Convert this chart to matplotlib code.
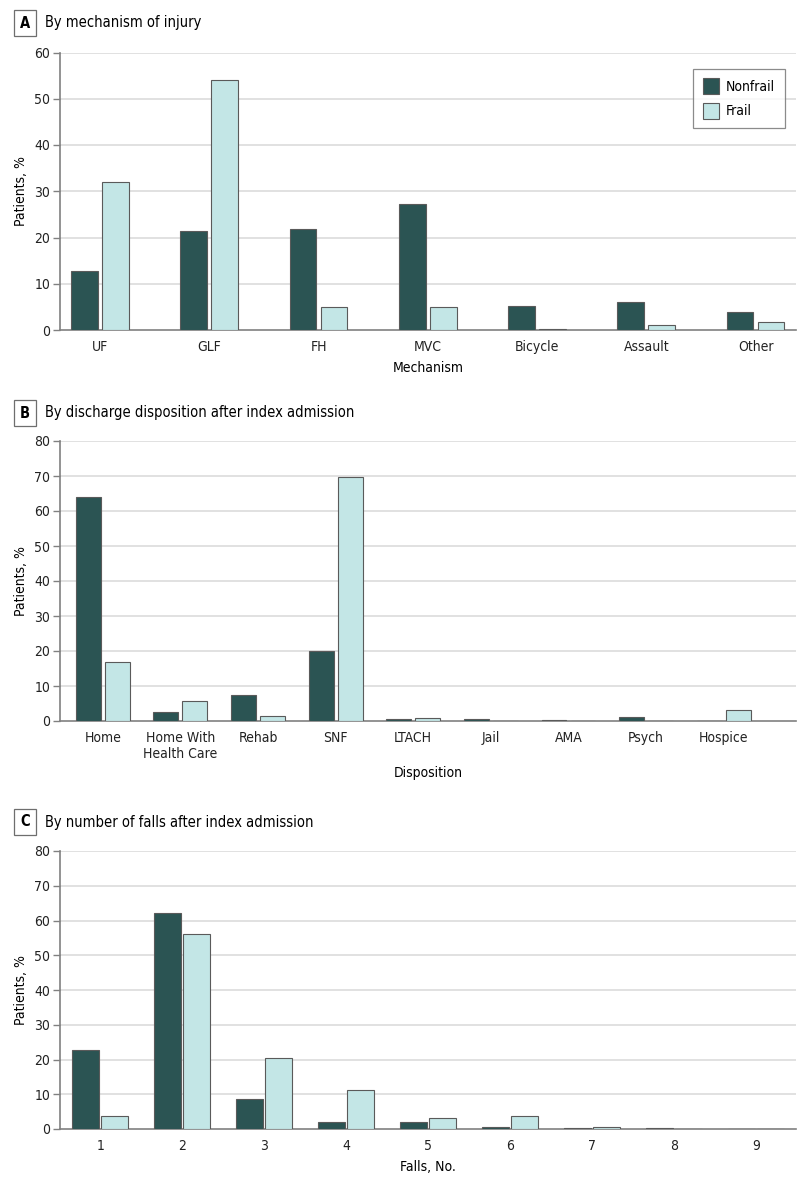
import matplotlib
matplotlib.use("Agg")
import matplotlib.pyplot as plt
from matplotlib.patches import Patch

# Panel A - mechanism of injury
mechanisms = ["UF", "GLF", "FH", "MVC", "Bicycle", "Assault", "Other"]
mechNonfrail = [12.7, 21.5, 21.8, 27.2, 5.2, 6.0, 4.0]
mechFrail = [32.0, 54.0, 5.0, 5.0, 0.3, 1.0, 1.7]

# Panel B - discharge disposition
dispositions = ["Home", "Home With\nHealth Care", "Rehab", "SNF", "LTACH",
                "Jail", "AMA", "Psych", "Hospice"]
dispNonfrail = [64.0, 2.6, 7.4, 20.0, 0.6, 0.6, 0.3, 1.1, 0.0]
dispFrail = [16.9, 5.7, 1.4, 69.8, 0.8, 0.0, 0.0, 0.0, 3.1]

# Panel C - number of falls
falls = ["1", "2", "3", "4", "5", "6", "7", "8", "9"]
fallsNonfrail = [22.7, 62.2, 8.6, 2.0, 2.0, 0.6, 0.3, 0.3, 0.0]
fallsFrail = [3.7, 56.2, 20.3, 11.2, 3.1, 3.7, 0.5, 0.0, 0.0]

NONFRAIL = "#2b5453"
FRAIL = "#c3e6e6"
EDGE = "#5a5a5a"
AXISCOL = "#808080"
GRIDCOL = "#dcdcdc"
FS = 10

# condensed face is closer to the narrow journal font
plt.rcParams['font.family'] = ["DejaVu Sans"]
plt.rcParams['font.stretch'] = "condensed"
plt.rcParams['font.size'] = FS

W, H = 807., 1185.


def px_axes(fig, top, bottom, left=60, right=796):
    """ Create an axes from pixel coordinates (measured from top-left) """
    return fig.add_axes([left / W, (H - bottom) / H, (right - left) / W, (bottom - top) / H])
#### End of function px_axes


def panel_title(fig, letter, text, ypix):
    """ Draw the boxed panel letter and the panel title """
    fig.text(25 / W, 1 - ypix / H, letter, ha="center", va="center", fontsize=10.5,
             fontweight="bold",
             bbox=dict(boxstyle="square,pad=0.4", fc="white", ec="#6e6e6e", lw=0.9))
    fig.text(45 / W, 1 - ypix / H, text, ha="left", va="center", fontsize=10.5)
#### End of function panel_title


def plot_pair(ax, labels, nonfrail, frail, ymax, xlim, width, offset, xlabel, labelpad=5):
    """ Grouped bars of nonfrail / frail percentages """
    x = range(len(labels))
    ax.bar([i - offset for i in x], nonfrail, width=width, color=NONFRAIL,
           edgecolor=EDGE, linewidth=0.8, label="Nonfrail", zorder=3)
    ax.bar([i + offset for i in x], frail, width=width, color=FRAIL,
           edgecolor=EDGE, linewidth=0.8, label="Frail", zorder=3)
    ax.set_xticks(list(x))
    ax.set_xticklabels(labels)
    ax.set_xlim(*xlim)
    ax.set_ylim(0, ymax)
    ax.set_yticks(range(0, ymax + 1, 10))
    for y in range(10, ymax + 1, 10):
        ax.axhline(y, color=GRIDCOL, lw=1.2, zorder=0)
    for side in ["top", "right"]:
        ax.spines[side].set_visible(False)
    for side in ["left", "bottom"]:
        ax.spines[side].set_color(AXISCOL)
        ax.spines[side].set_linewidth(1.2)
    ax.tick_params(axis="x", length=0, pad=7, labelsize=FS, labelcolor="#222222")
    ax.tick_params(axis="y", length=5, width=1, color=AXISCOL, pad=2,
                   labelsize=FS, labelcolor="#222222")
    ax.set_xlabel(xlabel, fontsize=FS, labelpad=labelpad)
    ax.set_ylabel("Patients, %", fontsize=FS)
    ax.yaxis.set_label_coords(-32 / 736., 0.5)
#### End of function plot_pair


if __name__ == "__main__":
    fig = plt.figure(figsize=(W / 100, H / 100), dpi=100)

    panel_title(fig, "A", "By mechanism of injury", 23)
    axA = px_axes(fig, 52.5, 330)
    plot_pair(axA, mechanisms, mechNonfrail, mechFrail, 60, (-0.366, 6.37),
              0.245, 0.142, "Mechanism")
    handles = [Patch(facecolor=NONFRAIL, edgecolor=EDGE, lw=0.8, label="Nonfrail"),
               Patch(facecolor=FRAIL, edgecolor=EDGE, lw=0.8, label="Frail")]
    leg = axA.legend(handles=handles, loc="upper right", bbox_to_anchor=(0.985, 0.942),
                     borderaxespad=0, fancybox=False, edgecolor="#6e6e6e",
                     handlelength=1.2, handleheight=1.4, fontsize=FS,
                     borderpad=0.7, labelspacing=0.6, handletextpad=0.5)
    leg.get_frame().set_linewidth(0.9)

    panel_title(fig, "B", "By discharge disposition after index admission", 413)
    axB = px_axes(fig, 441, 721)
    plot_pair(axB, dispositions, dispNonfrail, dispFrail, 80, (-0.55, 8.93),
              0.32, 0.187, "Disposition", labelpad=4)

    panel_title(fig, "C", "By number of falls after index admission", 822)
    axC = px_axes(fig, 851, 1129)
    plot_pair(axC, falls, fallsNonfrail, fallsFrail, 80, (-0.49, 8.49),
              0.33, 0.18, "Falls, No.")

    fig.savefig("out.png", dpi=100)
